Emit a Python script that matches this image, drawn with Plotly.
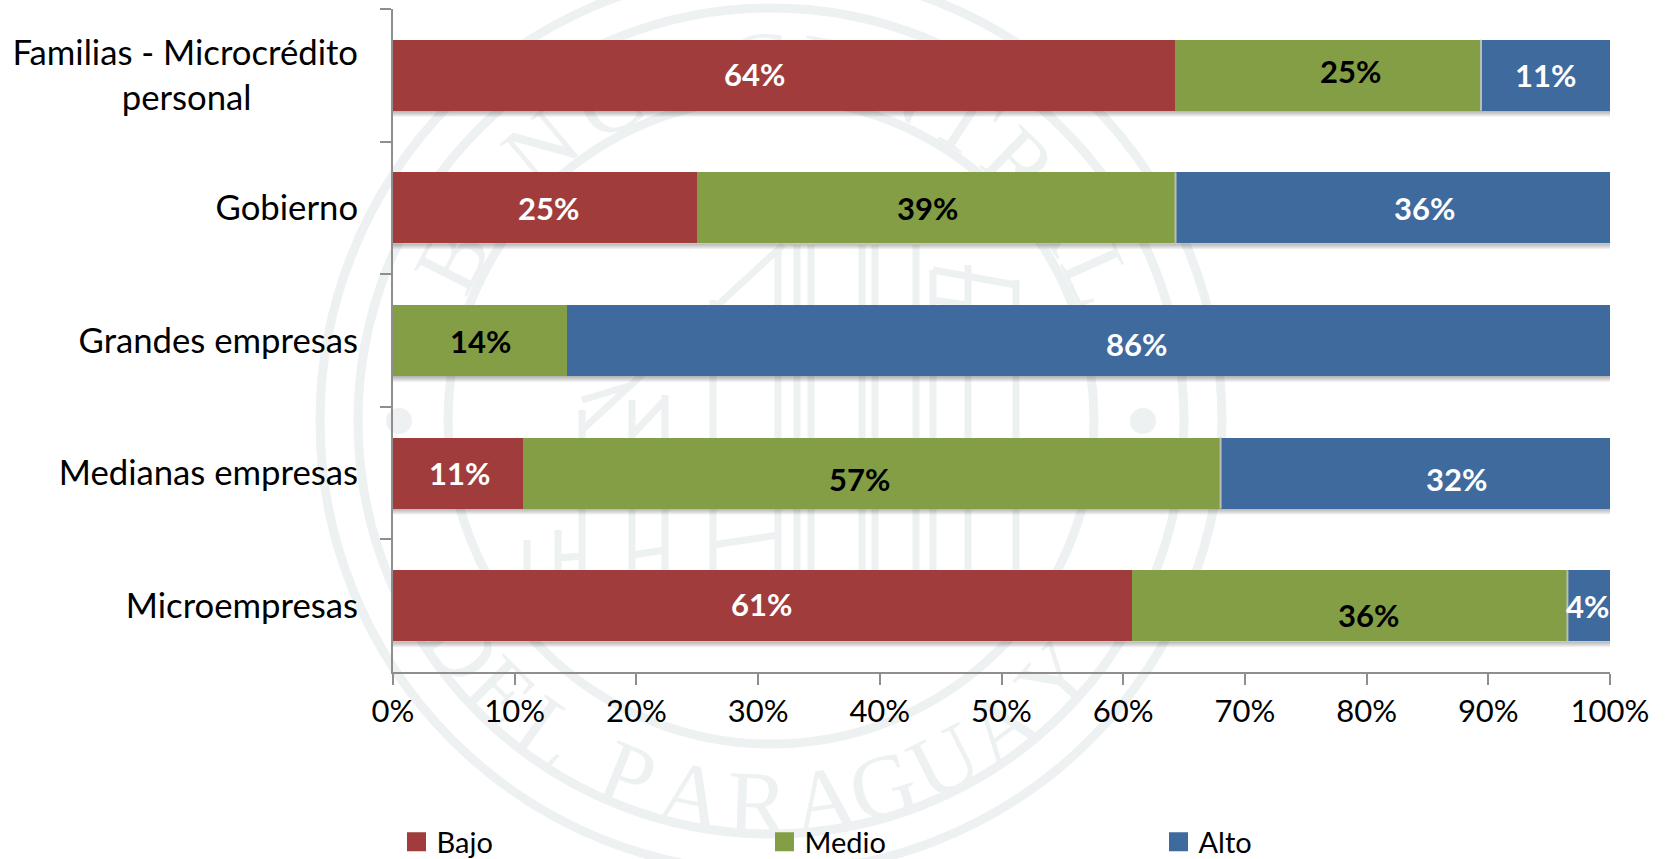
import math
import plotly.graph_objects as go

categories = ["Familias - Microcrédito<br>personal" + "\u00a0" * 12, "Gobierno", "Grandes empresas",
              "Medianas empresas", "Microempresas"]
bajo = [64.25, 25.0, 0.0, 10.7, 60.75]
medio = [25.15, 39.3, 14.3, 57.3, 35.75]
alto = [10.6, 35.7, 85.7, 32.0, 3.5]
bajo_labels = ["64%", "25%", "", "11%", "61%"]
medio_labels = ["25%", "39%", "14%", "57%", "36%"]
alto_labels = ["11%", "36%", "86%", "32%", "4%"]
# label nudges (px) away from segment centre, as placed in the source chart
bajo_dx = [-29, 3, 0, 1, -1]
bajo_dy = [-1, 0, 0, 0, -2]
medio_dx = [23, -9, 0, -12, 19]
medio_dy = [-4, 0, 0, 6, 9]
alto_dx = [0, 32, 48, 41, -1]
alto_dy = [0, 0, 3, 6, 0]
x_ticks = list(range(0, 101, 10))
x_tick_labels = ["0%", "10%", "20%", "30%", "40%", "50%", "60%", "70%", "80%", "90%", "100%"]
series_names = ["Bajo", "Medio", "Alto"]
colors = ["#A03D3C", "#839E45", "#3F6A9D"]
label_colors = ["white", "black", "white"]

W, H = 1668, 859
L, R, T, B = 393, 1610, 9, 672
FONT = "Lato, 'Open Sans', sans-serif"
WM = "#EDF1F1"
BARGAP = 0.465


def px(x):
    return (x - L) / (R - L)


def py(y):
    return (B - y) / (B - T)


fig = go.Figure()
for name, vals, col in zip(series_names, [bajo, medio, alto], colors):
    fig.add_trace(go.Bar(y=categories, x=vals, name=name, orientation="h",
                         marker=dict(color=col, line=dict(width=0)), showlegend=False))

# legend entries with square swatches, one legend per entry
for i, (name, col) in enumerate(zip(series_names, colors)):
    fig.add_trace(go.Scatter(x=[None], y=[None], name=name, mode="markers",
                             marker=dict(symbol="square", size=16, color=col, line=dict(width=3, color=col)),
                             legend="legend" if i == 0 else f"legend{i + 1}", showlegend=True))

shapes = []
# watermark seal
CX, CY = 771, 421


def circle(r, width=9):
    shapes.append(dict(type="circle", xref="paper", yref="paper", layer="below",
                       x0=px(CX - r), x1=px(CX + r), y0=py(CY + r), y1=py(CY - r),
                       line=dict(color=WM, width=width), fillcolor="rgba(0,0,0,0)"))


for r in (323, 413, 451):
    circle(r)
for sx in (-372, 372):
    shapes.append(dict(type="circle", xref="paper", yref="paper", layer="below",
                       x0=px(CX + sx - 13), x1=px(CX + sx + 13), y0=py(CY + 13), y1=py(CY - 13),
                       line=dict(width=0), fillcolor=WM))


def seg(x0, y0, x1, y1, w=7):
    shapes.append(dict(type="line", xref="paper", yref="paper", layer="below",
                       x0=px(x0), x1=px(x1), y0=py(y0), y1=py(y1), line=dict(color=WM, width=w)))


for vx, top, bot in [(527, 540, 600), (558, 530, 590), (582, 410, 600), (632, 400, 600), (665, 395, 600),
                     (713, 300, 600), (778, 250, 600), (797, 245, 600), (811, 245, 600), (862, 245, 600),
                     (875, 245, 600), (916, 245, 600), (933, 270, 600), (968, 265, 600), (1016, 280, 600)]:
    seg(vx, top, vx, bot)
seg(783, 245, 582, 430)
seg(665, 400, 632, 435)
seg(933, 270, 1016, 285)
seg(933, 300, 968, 305)
seg(713, 545, 778, 535)
seg(632, 555, 665, 550)
seg(558, 558, 582, 556)
seg(582, 400, 632, 385)

top_letters = list("BANCOCENTRAL")
top_angles = [-63, -52, -40, -27, -14, -2, 9, 21, 33, 44, 55, 66]
bot_letters = list("DELPARAGUAY")
bot_angles = [-54, -45, -35.5, -22, -12, -2, 8, 17, 27, 37, 48]
TOP_R, BOT_R = 368, 372


def letter(ch, x, y, ang):
    shapes.append(dict(type="rect", xref="paper", yref="paper", layer="below",
                       x0=px(x - 40), x1=px(x + 40), y0=py(y + 40), y1=py(y - 40),
                       line=dict(width=0), fillcolor="rgba(0,0,0,0)",
                       label=dict(text=ch, textposition="middle center", textangle=ang,
                                  font=dict(family="'Liberation Serif', serif", size=90, color=WM))))


for ch, a in zip(top_letters, top_angles):
    t = math.radians(a)
    letter(ch, CX + TOP_R * math.sin(t), CY - TOP_R * math.cos(t), a)
for ch, a in zip(bot_letters, bot_angles):
    t = math.radians(a)
    letter(ch, CX + BOT_R * math.sin(t), CY + BOT_R * math.cos(t), -a)

half = (1 - BARGAP) / 2
# soft drop shadow below each bar, separators between Medio and Alto
for i in range(len(categories)):
    for k in range(1, 7):
        shapes.append(dict(type="rect", xref="x", yref="y", layer="below", ysizemode="pixel",
                           yanchor=i + half, y0=0, y1=-k, x0=0, x1=100,
                           line=dict(width=0), fillcolor="rgba(60,60,60,0.07)"))
    if alto[i] < 50:
        edge = bajo[i] + medio[i]
        shapes.append(dict(type="line", xref="x", yref="y", layer="above",
                           x0=edge, x1=edge, y0=i - half, y1=i + half,
                           line=dict(color="#B9BEB4", width=2)))

annotations = []
for vals, labs, dxs, dys, s in [(bajo, bajo_labels, bajo_dx, bajo_dy, 0),
                                (medio, medio_labels, medio_dx, medio_dy, 1),
                                (alto, alto_labels, alto_dx, alto_dy, 2)]:
    for i, (v, lab, dx, dy) in enumerate(zip(vals, labs, dxs, dys)):
        if not lab:
            continue
        start = sum(a[i] for a in [bajo, medio, alto][:s])
        annotations.append(dict(x=start + v / 2, y=i, xref="x", yref="y", text=lab, showarrow=False,
                                xshift=dx, yshift=-dy,
                                font=dict(family=FONT, size=31, color=label_colors[s], weight=700)))

legend_common = dict(orientation="v", xanchor="left", yanchor="middle", y=py(842),
                     bgcolor="rgba(0,0,0,0)", borderwidth=0, itemclick=False,
                     font=dict(family=FONT, size=29, color="black"))

fig.update_layout(
    width=W, height=H, barmode="stack", bargap=BARGAP,
    margin=dict(l=L, r=W - R, t=T, b=H - B, autoexpand=False),
    paper_bgcolor="white", plot_bgcolor="rgba(0,0,0,0)",
    font=dict(family=FONT, size=30, color="black"),
    xaxis=dict(range=[0, 100], tickmode="array", tickvals=x_ticks, ticktext=x_tick_labels,
               showgrid=False, zeroline=False,
               showline=True, linecolor="#8E8E8E", linewidth=2, ticks="outside", ticklen=11,
               tickwidth=2, tickcolor="#8E8E8E", tickfont=dict(family=FONT, size=31, color="black")),
    yaxis=dict(autorange="reversed", type="category", showgrid=False, zeroline=False, showline=True,
               linecolor="#8E8E8E", linewidth=2, ticks="outside", ticklen=11, tickwidth=2,
               tickcolor="#8E8E8E", tickson="boundaries", ticklabelstandoff=26,
               tickfont=dict(family=FONT, size=34.7, color="black")),
    legend=dict(x=px(396.5), **legend_common),
    legend2=dict(x=px(764.5), **legend_common),
    legend3=dict(x=px(1158.5), **legend_common),
    shapes=shapes, annotations=annotations,
)

fig.write_html("out.html", config=dict(displayModeBar=False),
               post_script="document.body.style.margin='0';document.body.style.overflow='hidden';")
